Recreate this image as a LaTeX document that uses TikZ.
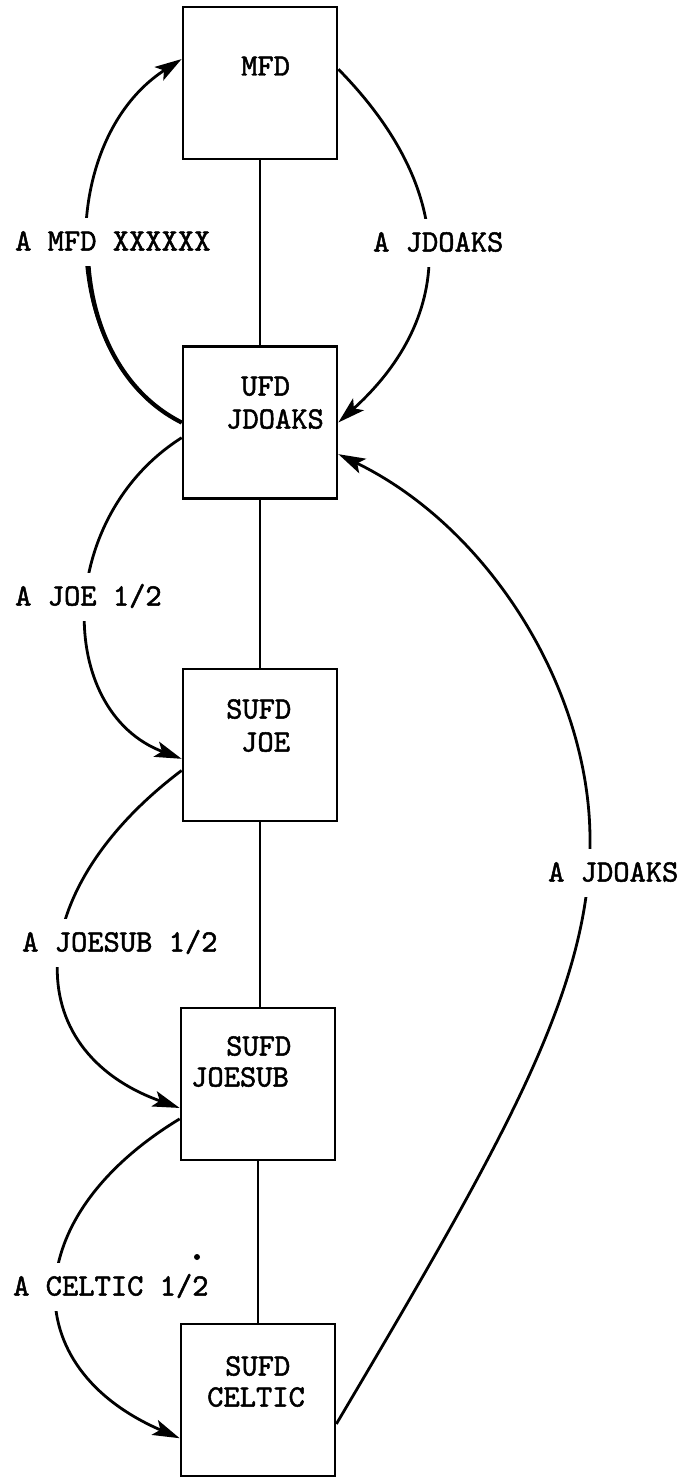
\documentclass[tikz,border=0pt]{standalone}
\usepackage{fontspec}
\newfontfamily\tw{lmmono10-regular.otf}[RawFeature={embolden=1.6}]
\usetikzlibrary{arrows.meta}
\begin{document}
\begin{tikzpicture}[x=1pt,y=-1pt,
  box/.style={draw, line width=2.7pt, minimum width=154pt, minimum height=152pt, inner sep=0pt},
  txt/.style={font=\fontsize{31}{33}\selectfont\tw, inner sep=0pt, anchor=west, text height=17pt, text depth=0pt},
  lbl/.style={txt, fill=white, inner xsep=2pt, minimum height=48pt},
  link/.style={line width=2.4pt},
  conn/.style={line width=2.8pt, -{Stealth[length=27pt,width=16pt,inset=6pt]}}]
\fill[white] (0,0) rectangle (679,1477);
\useasboundingbox (0,0) rectangle (679,1477);

% boxes
\node[box] (mfd) at (260,83) {};
\node[box] (ufd) at (260,422.5) {};
\node[box] (joe) at (260,745) {};
\node[box] (joesub) at (258,1084) {};
\node[box] (celtic) at (258,1400) {};

% box texts
\node[txt] (tmfd) at (241,67) {MFD};
\node[txt] (tufd1) at (241,387) {UFD};
\node[txt] (tufd2) at (226,420) {JDOAKS};
\node[txt] (tjoe1) at (226,710) {SUFD};
\node[txt] (tjoe2) at (241,743) {JOE};
\node[txt] (tjs1) at (226,1047) {SUFD};
\node[txt] (tjs2) at (191,1078) {JOESUB};
\node[txt] (tcel1) at (225,1367) {SUFD};
\node[txt] (tcel2) at (207,1398) {CELTIC};

% tree lines
\draw[link] (mfd) -- (ufd);
\draw[link] (ufd) -- (joe);
\draw[link] (joe.south) -- (joe.south |- joesub.north);
\draw[link] (joesub) -- (celtic);

% curved connectors
\coordinate (mid) at (590,840);
\draw[conn] (ufd.west) .. controls (58,360.5) and (55,141) .. (mfd.163);
\begin{scope}
  \clip (0,262) rectangle (183,430);
  \draw[line width=4.2pt] (ufd.west) .. controls (58,360.5) and (55,141) .. (mfd.163);
\end{scope}
\draw[conn] (mfd.10) .. controls (457,190) and (457,315) .. (ufd.east);
\draw[conn] (ufd.191) .. controls (55,518) and (55,711) .. (joe.190);
\draw[conn] (joe.198) .. controls (21,891.5) and (18,1050) .. (joesub.197);
\draw[conn] (joesub.204) .. controls (18,1217) and (15,1367) .. (celtic.206);
\draw[conn] (celtic.343) .. controls (505,1139) and (590,990) .. (mid)
  .. controls (590,690) and (490,528) .. (ufd.338);

% labels
\node[lbl] (l1) at (13,242) {A MFD XXXXXX};
\node[lbl] (l2) at (371,243) {A JDOAKS};
\node[lbl] (l3) at (13,597) {A JOE 1/2};
\node[lbl] (l4) at (20,943) {A JOESUB 1/2};
\node[lbl] (l5) at (11,1287) {A CELTIC 1/2};
\node[lbl] (l6) at (546,873) {A JDOAKS};

% stray dot
\fill (197,1257) circle[radius=3pt];
\end{tikzpicture}
\end{document}
